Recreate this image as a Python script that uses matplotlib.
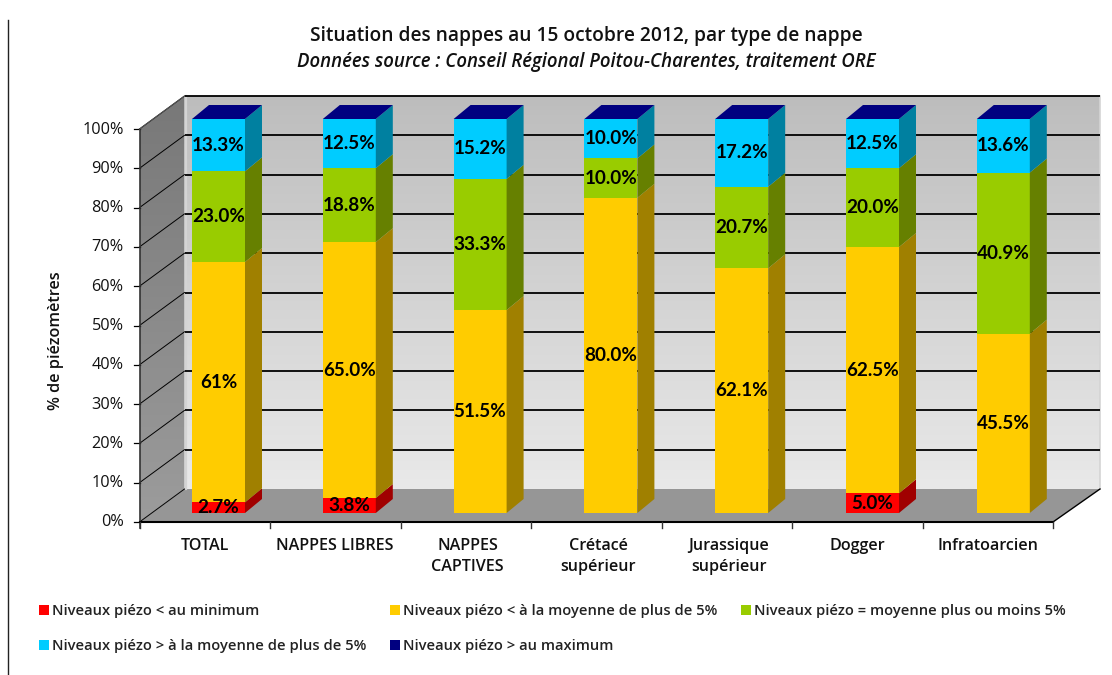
import matplotlib
matplotlib.use("Agg")
import matplotlib.pyplot as plt
import numpy as np
from matplotlib.patches import Polygon, Rectangle

categories = ["TOTAL", "NAPPES LIBRES", "NAPPES\nCAPTIVES", "Crétacé\nsupérieur",
              "Jurassique\nsupérieur", "Dogger", "Infratoarcien"]
minimum = [2.7, 3.8, 0, 0, 0, 5.0, 0]
below = [61, 65.0, 51.5, 80.0, 62.1, 62.5, 45.5]
normal = [23.0, 18.8, 33.3, 10.0, 20.7, 20.0, 40.9]
above = [13.3, 12.5, 15.2, 10.0, 17.2, 12.5, 13.6]
maximum = [0, 0, 0, 0, 0, 0, 0]
series_names = ["Niveaux piézo < au minimum",
                "Niveaux piézo < à la moyenne de plus de 5%",
                "Niveaux piézo = moyenne plus ou moins 5%",
                "Niveaux piézo > à la moyenne de plus de 5%",
                "Niveaux piézo > au maximum"]
front_colors = ["#FF0000", "#FFCC00", "#99CC00", "#00CCFF", "#000080"]
side_colors = ["#A00000", "#A08000", "#668000", "#0080A0", "#000060"]
y_ticks = list(range(0, 101, 10))
label_overrides = {(0, 1): "61%"}

FONT = "Open Sans"
plt.rcParams["font.family"] = [FONT, "DejaVu Sans"]

fig = plt.figure(figsize=(11.12, 6.75), dpi=100, facecolor="white")
ax = fig.add_axes([0, 0, 1, 1])
ax.set_xlim(0, 1112)
ax.set_ylim(675, 0)
ax.axis("off")

# frame geometry (pixels)
FX0, FX1, FY0 = 139.5, 1053, 522      # front floor edge
DX, DY = 45, 33                       # depth of the box
UNIT = 3.93                           # pixels per percent
BAR_UNIT = 3.94
BAR_Y0 = 513
BAR_W = 53
BAR_X0 = 192
BAR_STEP = 130.8
BDX, BDY = 17, 14
n = len(categories)


def back_y(v):
    return FY0 - DY - v * UNIT


def front_y(v):
    return FY0 - v * UNIT


def bar_y(v):
    return BAR_Y0 - v * BAR_UNIT


def gradient(poly, extent, top, bottom, z):
    c = np.linspace(0, 1, 256)[:, None, None]
    img = np.array(matplotlib.colors.to_rgb(top))[None, None, :] * (1 - c) + \
        np.array(matplotlib.colors.to_rgb(bottom))[None, None, :] * c
    im = ax.imshow(img, extent=extent, aspect="auto", zorder=z, origin="upper")
    patch = Polygon(poly, closed=True, transform=ax.transData, fc="none", ec="none")
    ax.add_patch(patch)
    im.set_clip_path(patch)


BX0, BX1 = FX0 + DX, FX1 + DX + 2
# back wall
gradient([(BX0, back_y(100)), (BX1, back_y(100)), (BX1, back_y(0)), (BX0, back_y(0))],
         (BX0, BX1, back_y(0), back_y(100)), "#BDBDBD", "#E9E9E9", 1)
# left wall
gradient([(FX0, front_y(100)), (BX0, back_y(100)), (BX0, back_y(0)), (FX0, front_y(0))],
         (FX0, BX0, front_y(0), back_y(100)), "#787878", "#9C9C9C", 1)
# floor
ax.add_patch(Polygon([(FX0, FY0), (FX1, FY0), (BX1, back_y(0)), (BX0, back_y(0))],
                     closed=True, fc="#969696", ec="none", zorder=2))
ax.plot([BX0 + 1, BX0 + 1], [back_y(100), back_y(0)], color="#D4D4D4", lw=1.6, zorder=2.5)
ax.plot([BX1, BX1], [back_y(100), back_y(0)], color="#D4D4D4", lw=1.2, zorder=2.5)

# gridlines
for v in y_ticks[1:]:
    ax.plot([BX0, BX1], [back_y(v), back_y(v)], color="black", lw=1.3, zorder=3,
            solid_capstyle="butt")
for v in y_ticks:
    ax.plot([FX0, BX0], [front_y(v), back_y(v)], color="black", lw=0.7, zorder=3)
    ax.plot([FX0 - 6, FX0], [front_y(v), front_y(v)], color="black", lw=0.9, zorder=3)
    ax.text(123.5, front_y(v) + 0.5, f"{v}%", ha="right", va="center", fontsize=11.7,
            color="#111111")

# axis frame lines
ax.plot([FX0, FX0], [front_y(100), FY0 + 6], color="#333333", lw=1.2, zorder=4)
ax.plot([FX0, FX1], [FY0, FY0], color="black", lw=1.5, zorder=4)
ax.plot([FX1, BX1], [FY0, back_y(0)], color="black", lw=1.0, zorder=4)
ax.plot([FX0, BX0], [front_y(100), back_y(100)], color="#555555", lw=0.8, zorder=4)
for k in range(n + 1):
    x = FX0 + (FX1 - FX0) * k / n
    ax.plot([x, x], [FY0, FY0 + 6], color="#333333", lw=1.0, zorder=4)

# bars
series = [minimum, below, normal, above, maximum]
data = np.array(series, dtype=float)
data = data / data.sum(axis=0) * 100
for i in range(n):
    x0 = BAR_X0 + i * BAR_STEP
    x1 = x0 + BAR_W
    base = 0.0
    for s in range(len(series)):
        v = data[s, i]
        top = base + v
        if v > 0:
            ax.add_patch(Rectangle((x0, bar_y(top)), BAR_W, v * BAR_UNIT, fc=front_colors[s],
                                   ec="none", zorder=5))
            ax.add_patch(Polygon([(x1, bar_y(base)), (x1 + BDX, bar_y(base) - BDY),
                                  (x1 + BDX, bar_y(top) - BDY), (x1, bar_y(top))],
                                 closed=True, fc=side_colors[s], ec="none", zorder=5))
            label = label_overrides.get((i, s), f"{series[s][i]:.1f}%")
            ax.text((x0 + x1) / 2, bar_y(base + v / 2), label, ha="center", va="center",
                    fontsize=13.6, color="black", zorder=7, fontweight="bold",
                    family=["Lato", "DejaVu Sans"])
        base = top
    # top face, the zero-height last series
    ax.add_patch(Polygon([(x0, bar_y(100)), (x1, bar_y(100)), (x1 + BDX, bar_y(100) - BDY),
                          (x0 + BDX, bar_y(100) - BDY)], closed=True,
                         fc=front_colors[4], ec="none", zorder=5))

# category labels
for k, name in enumerate(categories):
    x = FX0 + (FX1 - FX0) * (k + 0.5) / n
    ax.text(x + (2 if "\n" in name else 0), 538.5, name, ha="center", va="top", fontsize=11.6,
            fontweight="semibold", color="#111111", linespacing=1.4)

# titles
ax.text(586, 36.5, "Situation des nappes au 15 octobre 2012, par type de nappe",
        ha="center", va="center", fontsize=13.8, fontweight="semibold", color="#111111")
ax.text(586, 61.5, "Données source : Conseil Régional Poitou-Charentes, traitement ORE",
        ha="center", va="center", fontsize=13.4, fontstyle="italic", fontweight="semibold",
        color="#111111")
ax.text(56, 341, "% de piézomètres", rotation=90, ha="center", va="center",
        fontsize=11.7, fontweight="semibold", color="#111111")

# legend
leg_pos = [(39, 610), (390, 610), (741, 610), (39, 645), (390, 645)]
for (lx, ly), name, col in zip(leg_pos, series_names, front_colors):
    ax.add_patch(Rectangle((lx, ly - 5), 10, 10, fc=col, ec="none"))
    ax.text(lx + 13, ly + 1, name, ha="left", va="center", fontsize=10.6,
            fontweight="semibold", color="#222222")

# outer left line
ax.plot([8, 8], [20, 675], color="#222222", lw=1.0)

fig.savefig("out.png", dpi=100, facecolor="white")
